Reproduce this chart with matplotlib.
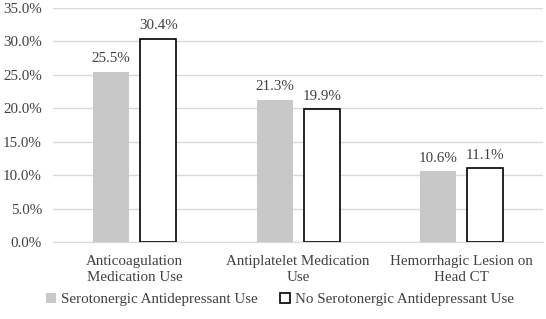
import matplotlib.pyplot as plt
import numpy as np

categorias = ["Anticoagulation\nMedication Use", "Antiplatelet Medication\nUse", "Hemorrhagic Lesion on\nHead CT"]
serotonergic = [25.5, 21.3, 10.6]
no_serotonergic = [30.4, 19.9, 11.1]
series = ["Serotonergic Antidepressant Use", "No Serotonergic Antidepressant Use"]

plt.rcParams['font.family'] = ['Liberation Serif', 'DejaVu Serif']
plt.rcParams['font.size'] = 10.8

fig = plt.figure(figsize=(5.46, 3.19), dpi=100)
ax = fig.add_axes([0.097, 0.241, 0.898, 0.734])

x = np.arange(len(categorias))
ancho = 0.22
desp = 0.144

b1 = ax.bar(x - desp, serotonergic, ancho, color="#c8c8c8", zorder=3)
b2 = ax.bar(x + desp, no_serotonergic, ancho, color="white", edgecolor="black", linewidth=1.2, zorder=3)

for barras, valores in [(b1, serotonergic), (b2, no_serotonergic)]:
    for b, v in zip(barras, valores):
        ax.text(b.get_x() + b.get_width() / 2, v + 0.95, f"{v:.1f}%", ha="center", va="bottom",
                color="#404040")

ax.set_xlim(-0.5, 2.5)
ax.set_ylim(0, 35)
ax.set_yticks(np.arange(0, 36, 5))
ax.set_yticklabels([f"{t:.1f}%" for t in np.arange(0, 36, 5)], color="#404040")
ax.set_xticks(x)
ax.set_xticklabels(categorias, color="#404040", linespacing=1.35)
ax.tick_params(axis="x", length=0, pad=9)
ax.tick_params(axis="y", length=0, pad=8)
ax.grid(axis="y", color="#d9d9d9", linewidth=1, zorder=0)
for s in ["top", "right", "left"]:
    ax.spines[s].set_visible(False)
ax.spines["bottom"].set_color("#d9d9d9")

leg = fig.legend([b1, b2], series, loc="center", bbox_to_anchor=(0.513, 0.062), ncol=2, frameon=False,
                 handlelength=0.65, handleheight=0.65, handletextpad=0.35, columnspacing=1.5)
for t in leg.get_texts():
    t.set_color("#404040")

fig.savefig("out.png", dpi=100)
